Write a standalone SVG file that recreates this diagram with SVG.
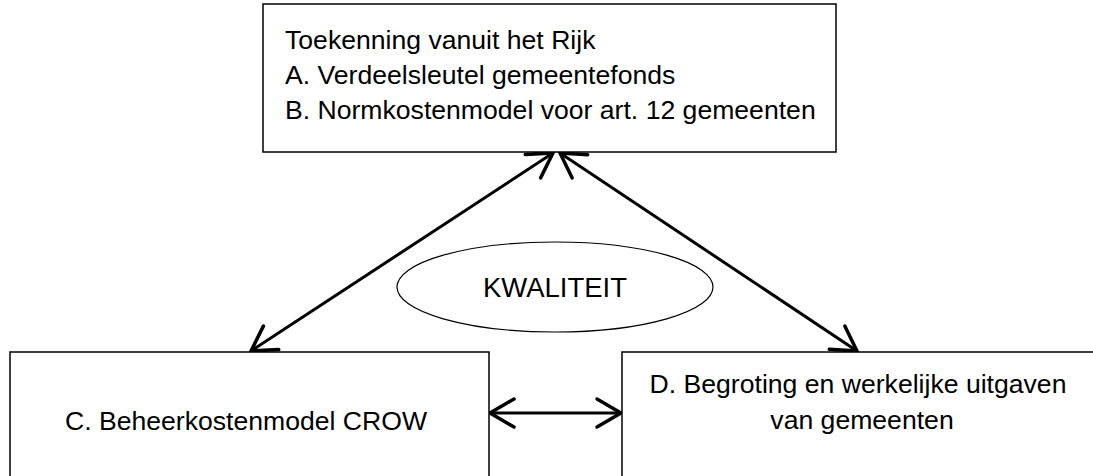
<svg xmlns="http://www.w3.org/2000/svg" width="1093" height="476" viewBox="0 0 1093 476">
<style>
.box{fill:#fff;stroke:#000;stroke-width:1.5}
.t{font-family:"Liberation Sans",Arial,sans-serif;font-size:26.6px;fill:#000}
.c{fill:none;stroke:#000;stroke-width:3}
</style>
<defs>
<marker id="ah" viewBox="-32 -18 36 36" markerUnits="userSpaceOnUse" markerWidth="36" markerHeight="36" refX="0" refY="0" orient="auto-start-reverse">
<path d="M-24,-14 L0,0 L-24,14" fill="none" stroke="#000" stroke-width="3.5" stroke-linecap="round" stroke-linejoin="miter"/>
</marker>
</defs>
<rect width="1093" height="476" fill="#fff"/>
<g id="connectors">
<line class="c" x1="553" y1="153" x2="251" y2="351" marker-start="url(#ah)" marker-end="url(#ah)"/>
<line class="c" x1="560" y1="153" x2="857" y2="351" marker-start="url(#ah)" marker-end="url(#ah)"/>
<line class="c" x1="490" y1="413" x2="621" y2="413" stroke-width="4" marker-start="url(#ah)" marker-end="url(#ah)"/>
</g>
<g id="top">
<rect class="box" x="263" y="4" width="573" height="148"/>
<text class="t" x="285" y="49">Toekenning vanuit het Rijk</text>
<text class="t" x="285" y="84">A. Verdeelsleutel gemeentefonds</text>
<text class="t" x="285" y="119">B. Normkostenmodel voor art. 12 gemeenten</text>
</g>
<g id="kwaliteit">
<ellipse cx="555" cy="287" rx="158" ry="45" fill="#fff" stroke="#000" stroke-width="1.2"/>
<text class="t" x="555" y="297" text-anchor="middle" style="font-size:27.5px">KWALITEIT</text>
</g>
<g id="c">
<rect class="box" x="10" y="352" width="479" height="140"/>
<text class="t" x="246" y="430" text-anchor="middle">C. Beheerkostenmodel CROW</text>
</g>
<g id="d">
<rect class="box" x="622" y="352" width="480" height="140"/>
<text class="t" x="858" y="393" text-anchor="middle">D. Begroting en werkelijke uitgaven</text>
<text class="t" x="862" y="429" text-anchor="middle">van gemeenten</text>
</g>
</svg>
